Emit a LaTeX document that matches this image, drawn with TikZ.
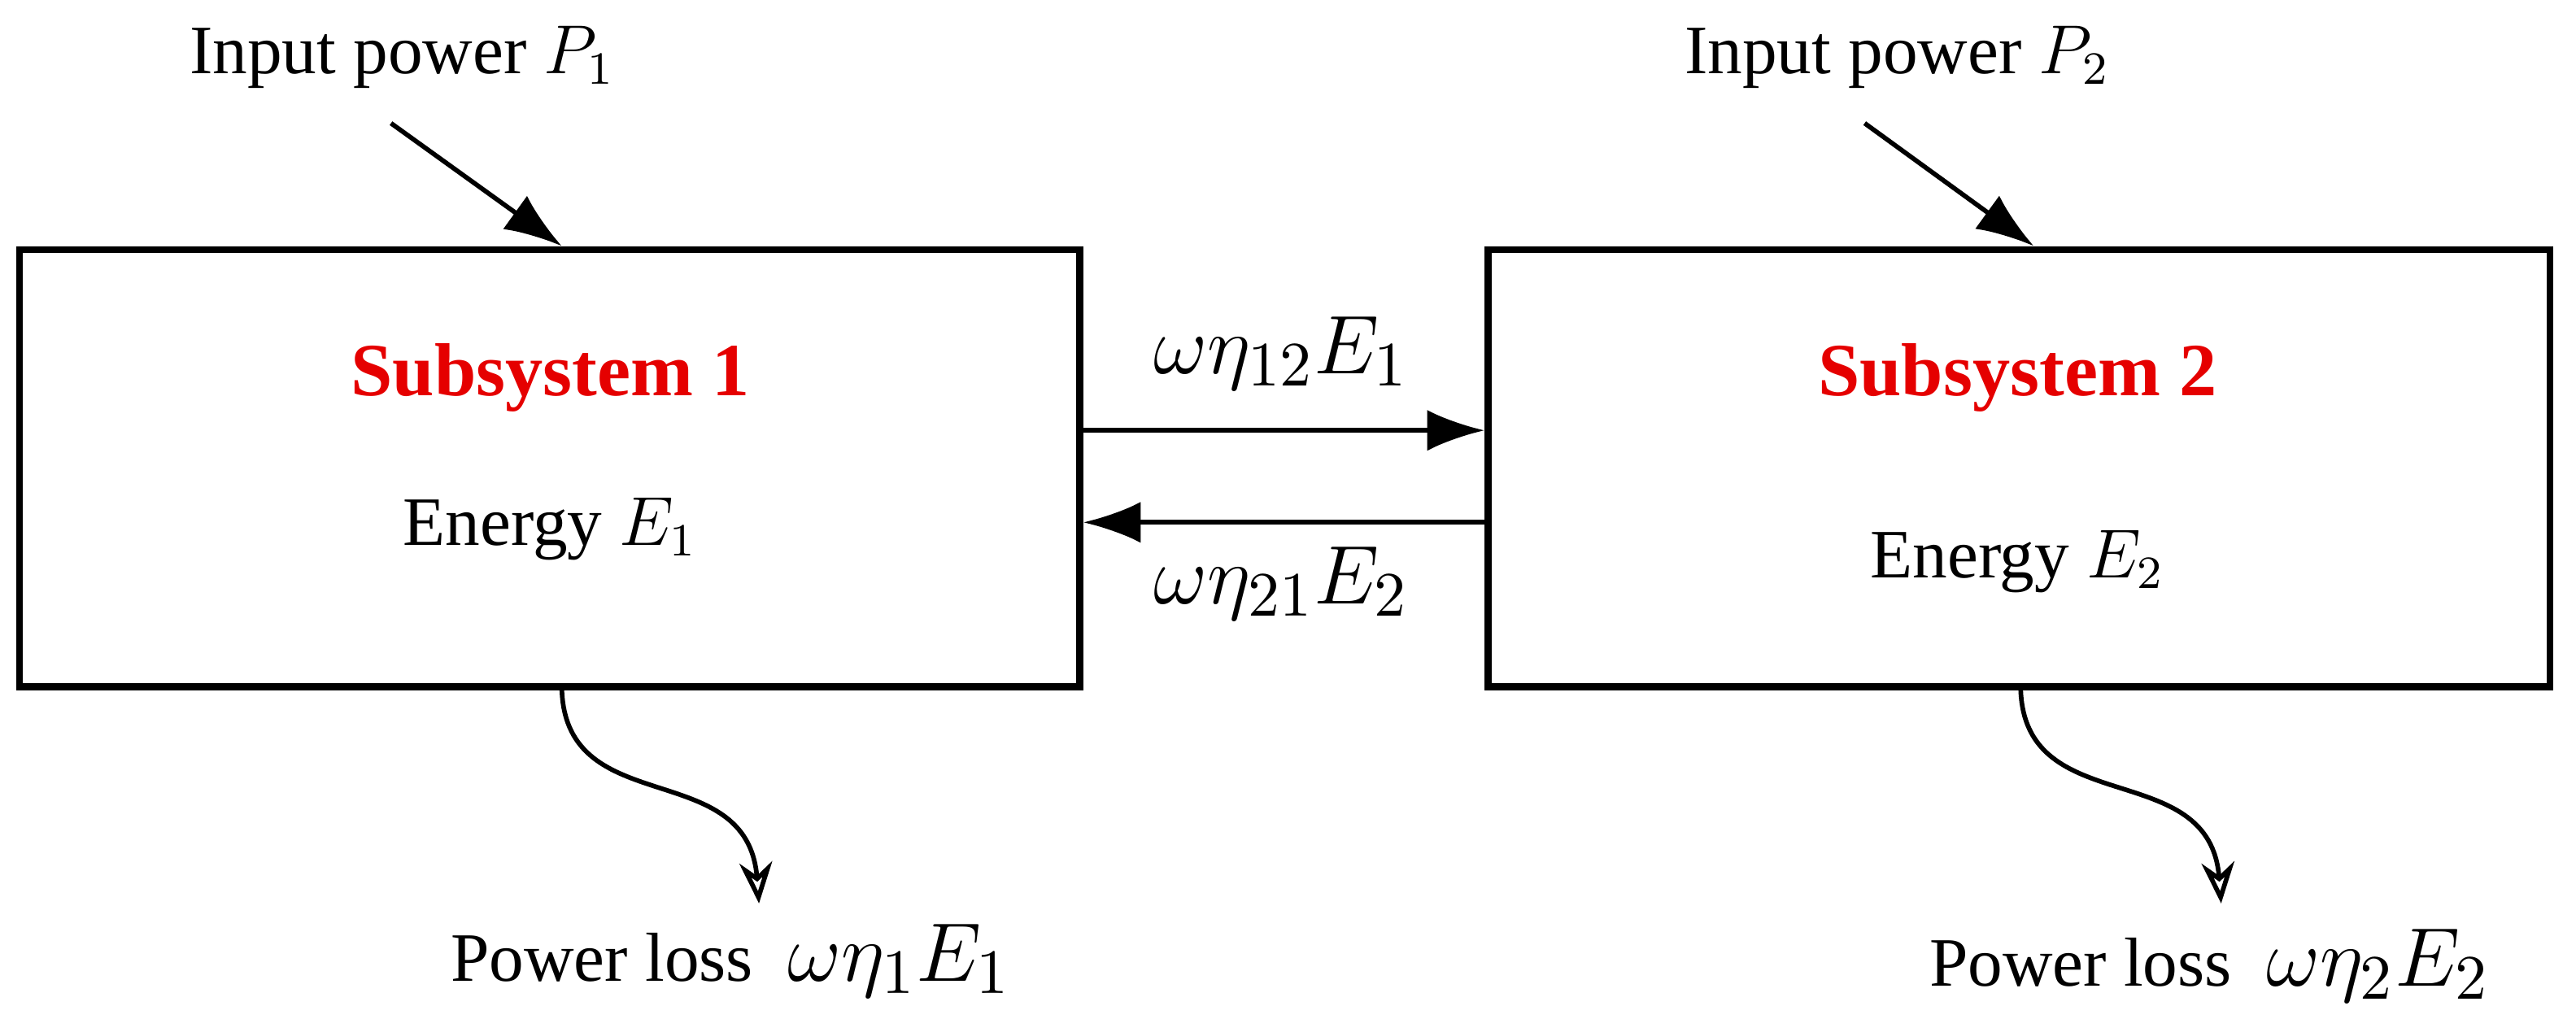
\documentclass[tikz,border=0pt]{standalone}
\usepackage{fontspec}
\setmainfont{Liberation Serif}
\usetikzlibrary{arrows}
\tikzstyle{block} = [rectangle, draw=black, line width=1.2pt]
\tikzstyle{title} = [text=red!90!black, font=\fontsize{13}{16}\selectfont\bfseries]
\tikzstyle{txt} = [font=\fontsize{12}{15}\selectfont]
\tikzstyle{mlabel} = [font=\fontsize{15}{18}\selectfont]
\tikzstyle{arrow} = [thick,-{Latex[length=3.5mm,width=2.5mm]}]
\tikzstyle{lossarrow} = [thick,-{Stealth[length=2.5mm,width=2mm,open]}]
\usetikzlibrary{arrows.meta}

\begin{document}
\begin{tikzpicture}[x=0.01cm,y=-0.01cm]
	\useasboundingbox (0,0) rectangle (1568,620);
	\node (box1) [block, minimum width=6.45cm, minimum height=2.66cm] at (334.5,285) {};
	\node (box2) [block, minimum width=6.46cm, minimum height=2.66cm] at (1229,285) {};
	\node (sub1) [title] at (335,230) {Subsystem 1};
	\node (sub2) [title] at (1228,230) {Subsystem 2};
	\node (en1) [txt] at (335,322) {Energy $E_1$};
	\node (en2) [txt] at (1228,342) {Energy $E_2$};
	\node (in1) [txt] at (245,35) {Input power $P_1$};
	\node (in2) [txt] at (1155,35) {Input power $P_2$};
	\node (c12) [mlabel] at (780,215) {$\omega\eta_{12}E_1$};
	\node (c21) [mlabel] at (780,355) {$\omega\eta_{21}E_2$};
	\node (loss1) [txt] at (445,585) {Power loss\enspace{\fontsize{15}{18}\selectfont$\omega\eta_1E_1$}};
	\node (loss2) [txt] at (1345,588) {Power loss\enspace{\fontsize{15}{18}\selectfont$\omega\eta_2E_2$}};
	\coordinate (l1) at (462,550);
	\coordinate (l2) at (1352,550);

	\draw [arrow] (238,75) -- (box1.north -| 342,0);
	\draw [arrow] (1135,75) -- (box2.north -| 1238,0);
	\draw [arrow] (box1.east |- 0,262) -- (box2.west |- 0,262);
	\draw [arrow] (box2.west |- 0,318) -- (box1.east |- 0,318);
	\draw [lossarrow] (box1.south -| 342,0) .. controls (345,500) and (455,460) .. (l1);
	\draw [lossarrow] (box2.south -| 1230,0) .. controls (1233,500) and (1345,460) .. (l2);
\end{tikzpicture}
\end{document}
